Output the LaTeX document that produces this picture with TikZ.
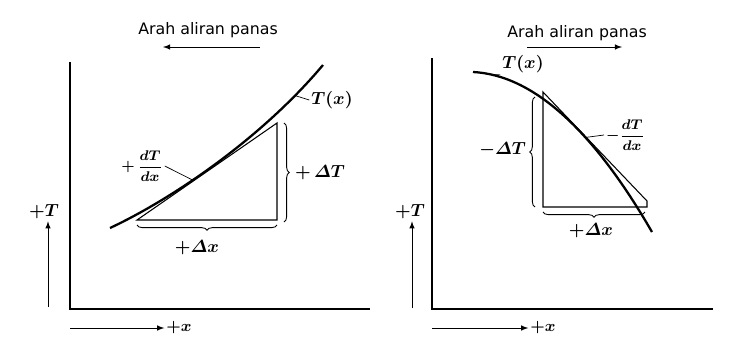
\documentclass[tikz,border=0pt]{standalone}
\usepackage{fontspec}
\newfontfamily\flowfont{DejaVu Sans}
\usetikzlibrary{decorations.pathreplacing}
\tikzset{
    >=latex,
    axis/.style = {line width=0.7pt},
    curve/.style = {line width=1.3pt},
    tri/.style = {line width=0.6pt},
    lead/.style = {line width=0.4pt},
    brace/.style = {decorate, decoration={brace, amplitude=3pt}, line width=0.5pt},
    lab/.style = {font=\boldmath, inner sep=1pt},
    slope/.style = {font=\boldmath\footnotesize, inner sep=1pt},
    flow/.style = {font=\flowfont\fontsize{9}{11}\selectfont, inner sep=1pt}
}

\begin{document}
\begin{tikzpicture}[x=0.02cm, y=-0.02cm]
    \useasboundingbox (0,0) rectangle (735,345);

    % left panel: heat flows to -x
    \coordinate(Ltop) at (70,62);
    \coordinate(Lo) at (70,309);
    \coordinate(Lend) at (370,309);
    \draw [axis] (Ltop)--(Lo)--(Lend);

    \node[flow] (Lflow) at (208,30) {Arah aliran panas};
    \coordinate(Lfs) at (260,47);
    \coordinate(Lfe) at (163,47);
    \draw [->, lead] (Lfs)--(Lfe);

    \node[lab] (LT) at (44,212) {$+T$};
    \coordinate(LTs) at (48,307);
    \draw [->, lead] (LTs)--(LTs |- LT.south);

    \node[lab, font=\boldmath\small] (Lx) at (179,328) {$+x$};
    \coordinate(Lxs) at (70,328);
    \draw [->, lead] (Lxs)--(Lx.west);

    \draw [curve] (110,228) .. controls (170,200) and (260,140) .. (323,65)
        coordinate[pos=0.4] (Lk) coordinate[pos=0.86] (Ltx);

    \coordinate(La) at (137,220);
    \coordinate(Lb) at (277,220);
    \coordinate(Lc) at (277,123);
    \draw [tri] (La)--(Lb)--(Lc)--cycle;

    \node[lab] (LTx) at (332,100) {$T(x)$};
    \draw [lead] (Ltx)--(LTx.west);

    \node[slope] (Ldt) at (142,166) {$+\,\displaystyle\frac{dT}{dx}$};
    \draw [lead] (Ldt.east)--(Lk);

    \coordinate(Ldxr) at (277,225);
    \coordinate(Ldxl) at (137,225);
    \draw [brace] (Ldxr)--(Ldxl);
    \node[lab] (Ldx) at (197,248) {$+\mathnormal{\Delta}x$};

    \coordinate(LdTt) at (284,123);
    \coordinate(LdTb) at (284,222);
    \draw [brace] (LdTt)--(LdTb);
    \node[lab] (LdT) at (320,173) {$+\,\mathnormal{\Delta}T$};

    % right panel: heat flows to +x
    \coordinate(Rtop) at (432,58);
    \coordinate(Ro) at (432,309);
    \coordinate(Rend) at (713,309);
    \draw [axis] (Rtop)--(Ro)--(Rend);

    \node[flow] (Rflow) at (577,33) {Arah aliran panas};
    \coordinate(Rfs) at (527,47);
    \coordinate(Rfe) at (622,47);
    \draw [->, lead] (Rfs)--(Rfe);

    \node[lab] (RT) at (410,212) {$+T$};
    \coordinate(RTs) at (412,308);
    \draw [->, lead] (RTs)--(RTs |- RT.south);

    \node[lab, font=\boldmath\small] (Rx) at (543,328) {$+x$};
    \coordinate(Rxs) at (432,328);
    \draw [->, lead] (Rxs)--(Rx.west);

    \draw [curve] (473,72) .. controls (532,75) and (592,128) .. (652,232)
        coordinate[pos=0.1] (Rtx) coordinate[pos=0.63] (Rk);

    \coordinate(Ra) at (543,92);
    \coordinate(Rb) at (543,207);
    \coordinate(Rc) at (647,207);
    \coordinate(Rd) at (647,201);
    \draw [tri] (Ra)--(Rb)--(Rc)--(Rd)--cycle;

    \node[lab] (RTx) at (523,64) {$T(x)$};
    \draw [lead] (Rtx)--(RTx.south west);

    \node[slope, anchor=west] (Rdt) at (604,135) {$-\displaystyle\frac{dT}{dx}$};
    \draw [lead] (Rk)--(Rdt.west);

    \coordinate(RdTb) at (535,207);
    \coordinate(RdTt) at (535,97);
    \draw [brace] (RdTb)--(RdTt);
    \node[lab, anchor=east] (RdT) at (528,150) {$-\mathnormal{\Delta}T$};

    \coordinate(Rdxr) at (645,212);
    \coordinate(Rdxl) at (543,212);
    \draw [brace] (Rdxr)--(Rdxl);
    \node[lab] (Rdx) at (591,231) {$+\mathnormal{\Delta}x$};

\end{tikzpicture}
\end{document}
